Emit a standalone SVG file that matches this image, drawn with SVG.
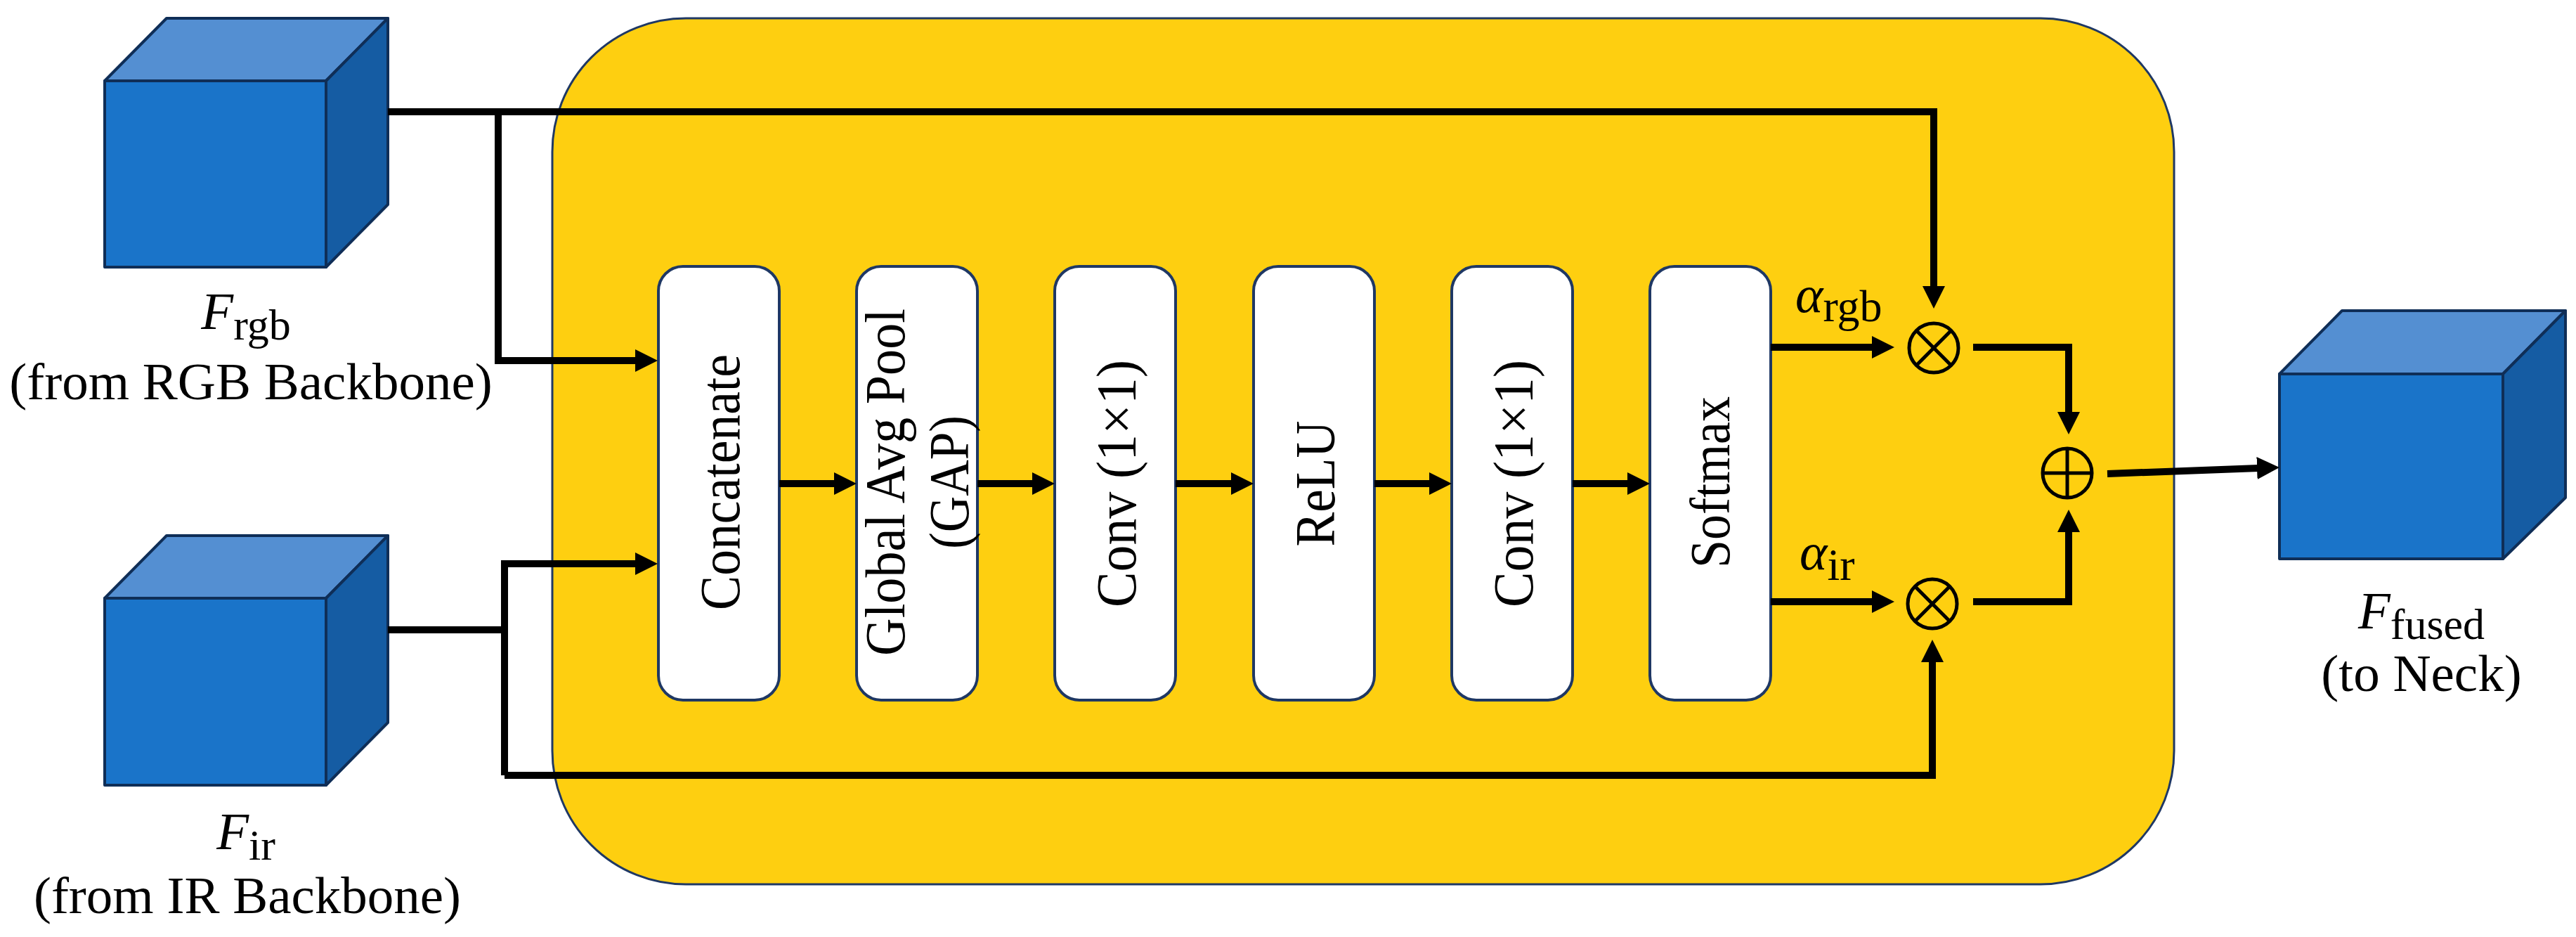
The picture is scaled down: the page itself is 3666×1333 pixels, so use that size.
<svg xmlns="http://www.w3.org/2000/svg" width="3666" height="1333" viewBox="0 0 3666 1333">
<style>
.front{fill:#1a74c9;stroke:#0f2e57;stroke-width:4;stroke-linejoin:round}
.top{fill:#548fd2;stroke:#0f2e57;stroke-width:4;stroke-linejoin:round}
.side{fill:#155ca3;stroke:#0f2e57;stroke-width:4;stroke-linejoin:round}
.box{fill:#ffffff;stroke:#1f3864;stroke-width:4}
.lbl{font-family:"Liberation Serif","Times New Roman",serif;font-size:75px;fill:#000}
.btxt{font-family:"Liberation Serif","Times New Roman",serif;font-size:80px;fill:#000;text-anchor:middle}
.wire{fill:none;stroke:#000;stroke-width:10;stroke-linejoin:miter}
.arr{fill:none;stroke:#000;stroke-width:10;stroke-linejoin:miter;marker-end:url(#ah)}
.op{fill:none;stroke:#000;stroke-width:5}
</style>
<defs>
<marker id="ah" markerUnits="userSpaceOnUse" markerWidth="34" markerHeight="34" refX="2" refY="16" orient="auto">
<path d="M0,0 L32,16 L0,32 z" fill="#000"/>
</marker>
</defs>
<rect width="3666" height="1333" fill="#ffffff"/>

<g id="container">
<rect x="786" y="26" width="2308" height="1232" rx="190" ry="190" fill="#fecf10" stroke="#1f3864" stroke-width="3"/>
</g>

<g id="cube-rgb">
<polygon class="top" points="149,115 237,26 552,26 464,115"/>
<polygon class="side" points="464,115 552,26 552,291 464,380"/>
<rect class="front" x="149" y="115" width="315" height="265"/>
<text class="lbl" x="350" y="468" text-anchor="middle"><tspan font-style="italic">F</tspan><tspan font-size="62" dy="15">rgb</tspan></text>
<text class="lbl" x="357" y="568" text-anchor="middle">(from RGB Backbone)</text>
</g>

<g id="cube-ir">
<polygon class="top" points="149,851 237,762 552,762 464,851"/>
<polygon class="side" points="464,851 552,762 552,1028 464,1117"/>
<rect class="front" x="149" y="851" width="315" height="266"/>
<text class="lbl" x="350" y="1208" text-anchor="middle"><tspan font-style="italic">F</tspan><tspan font-size="62" dy="15">ir</tspan></text>
<text class="lbl" x="352" y="1299" text-anchor="middle">(from IR Backbone)</text>
</g>

<g id="cube-fused">
<polygon class="top" points="3244,532 3333,442 3651,442 3562,532"/>
<polygon class="side" points="3562,532 3651,442 3651,708 3562,795"/>
<rect class="front" x="3244" y="532" width="318" height="263"/>
<text class="lbl" x="3446" y="894" text-anchor="middle"><tspan font-style="italic">F</tspan><tspan font-size="62" dy="15">fused</tspan></text>
<text class="lbl" x="3446" y="983" text-anchor="middle">(to Neck)</text>
</g>

<g id="concatenate">
<rect class="box" x="937" y="379" width="172" height="617" rx="35"/>
<text class="btxt" transform="translate(1023,686) rotate(-90)" y="29" textLength="364" lengthAdjust="spacingAndGlyphs">Concatenate</text>
</g>
<g id="gap">
<rect class="box" x="1219" y="379" width="172" height="617" rx="35"/>
<text class="btxt" transform="translate(1287,686) rotate(-90)" y="0" textLength="494" lengthAdjust="spacingAndGlyphs">Global Avg Pool</text>
<text class="btxt" transform="translate(1378,686) rotate(-90)" y="0" textLength="190" lengthAdjust="spacingAndGlyphs">(GAP)</text>
</g>
<g id="conv1">
<rect class="box" x="1501" y="379" width="172" height="617" rx="35"/>
<text class="btxt" transform="translate(1587,688) rotate(-90)" y="29" textLength="352" lengthAdjust="spacingAndGlyphs">Conv (1×1)</text>
</g>
<g id="relu">
<rect class="box" x="1784" y="379" width="172" height="617" rx="35"/>
<text class="btxt" transform="translate(1870,688) rotate(-90)" y="29" textLength="179" lengthAdjust="spacingAndGlyphs">ReLU</text>
</g>
<g id="conv2">
<rect class="box" x="2066" y="379" width="172" height="617" rx="35"/>
<text class="btxt" transform="translate(2152,688) rotate(-90)" y="29" textLength="352" lengthAdjust="spacingAndGlyphs">Conv (1×1)</text>
</g>
<g id="softmax">
<rect class="box" x="2348" y="379" width="172" height="617" rx="35"/>
<text class="btxt" transform="translate(2433,686) rotate(-90)" y="28" textLength="244" lengthAdjust="spacingAndGlyphs">Softmax</text>
</g>

<g id="mul-rgb">
<circle class="op" cx="2752" cy="495" r="35"/>
<path class="op" d="M2727.3,470.3 L2776.7,519.7 M2776.7,470.3 L2727.3,519.7"/>
</g>
<g id="mul-ir">
<circle class="op" cx="2750" cy="859" r="35"/>
<path class="op" d="M2725.3,834.3 L2774.7,883.7 M2774.7,834.3 L2725.3,883.7"/>
</g>
<g id="add">
<circle class="op" cx="2942" cy="673" r="35"/>
<path class="op" d="M2907,673 L2977,673 M2942,638 L2942,708"/>
</g>

<g id="labels">
<text class="lbl" x="2555" y="444" font-size="80"><tspan font-style="italic">α</tspan><tspan font-size="64" dy="13">rgb</tspan></text>
<text class="lbl" x="2561" y="810" font-size="80"><tspan font-style="italic">α</tspan><tspan font-size="64" dy="15">ir</tspan></text>
</g>

<g id="connectors">
<path class="arr" d="M552,159 L2752,159 L2752,409"/>
<path class="arr" d="M709,159 L709,513 L906,513"/>
<path class="wire" d="M552,896 L718,896"/>
<path class="arr" d="M718,1103 L718,802 L906,802"/>
<path class="arr" d="M718,1103 L2750,1103 L2750,940"/>
<path class="arr" d="M1109,688 L1189,688"/>
<path class="arr" d="M1391,688 L1471,688"/>
<path class="arr" d="M1673,688 L1754,688"/>
<path class="arr" d="M1956,688 L2036,688"/>
<path class="arr" d="M2238,688 L2318,688"/>
<path class="arr" d="M2520,494 L2666,494"/>
<path class="arr" d="M2520,856 L2666,856"/>
<path class="arr" d="M2808,494 L2944,494 L2944,588"/>
<path class="arr" d="M2808,856 L2944,856 L2944,755"/>
<path class="arr" d="M2999,674 L3214,666"/>
</g>
</svg>
